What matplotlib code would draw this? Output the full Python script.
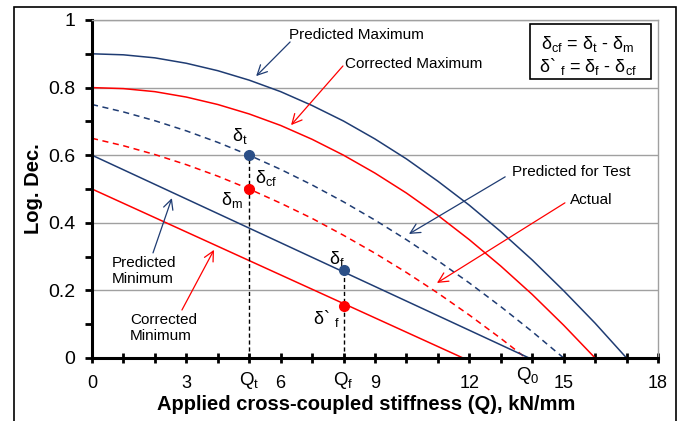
import matplotlib
matplotlib.use('Agg')
import matplotlib.pyplot as plt
from matplotlib.patches import Rectangle

plt.rcParams['font.family'] = ['Liberation Sans', 'DejaVu Sans']
plt.rcParams['mathtext.fontset'] = 'custom'
plt.rcParams['mathtext.rm'] = 'Liberation Sans'
plt.rcParams['mathtext.it'] = 'Liberation Sans'
plt.rcParams['mathtext.bf'] = 'Liberation Sans:bold'

navy = '#1F3C73'
red = '#FF0000'

# curves
pmax_x = [0, 1, 2, 3, 4, 5, 6, 7, 8, 9, 10, 11, 12, 13, 14, 15, 16, 17]
pmax_y = [0.90, 0.897, 0.888, 0.872, 0.850, 0.822, 0.788, 0.747, 0.701, 0.648,
          0.589, 0.523, 0.452, 0.374, 0.290, 0.199, 0.103, 0.0]
cmax_x = [0, 1, 2, 3, 4, 5, 6, 7, 8, 9, 10, 11, 12, 13, 14, 15, 16]
cmax_y = [0.80, 0.797, 0.788, 0.772, 0.750, 0.722, 0.688, 0.647, 0.600, 0.547,
          0.488, 0.422, 0.350, 0.272, 0.188, 0.097, 0.0]
ptest_x = [0, 1, 2, 3, 4, 5, 6, 7, 8, 9, 10, 11, 12, 13, 14, 15]
ptest_y = [0.75, 0.728, 0.702, 0.672, 0.638, 0.600, 0.558, 0.512, 0.462, 0.408,
           0.350, 0.288, 0.222, 0.152, 0.078, 0.0]
actual_x = [0, 1, 2, 3, 4, 5, 6, 7, 8, 9, 10, 11, 12, 13, 13.8]
actual_y = [0.65, 0.628, 0.602, 0.572, 0.538, 0.500, 0.458, 0.413, 0.363, 0.310,
            0.253, 0.192, 0.127, 0.058, 0.0]
pmin_x = [0, 13.9]
pmin_y = [0.60, 0.0]
cmin_x = [0, 11.8]
cmin_y = [0.50, 0.0]

# marked points
Qt, Qf, Q0 = 5.0, 8.0, 13.85
d_t, d_m = 0.60, 0.50
d_f, d_f2 = 0.26, 0.155

fig = plt.figure(figsize=(6.81, 4.21), dpi=100)
fig.patches.append(Rectangle((14 / 681, -0.05), (676 - 14) / 681, 1 - 7 / 421 + 0.05,
                             transform=fig.transFigure, fill=False, ec='black', lw=1.2))
ax = fig.add_axes([92 / 681, 1 - 358 / 421, (658 - 92) / 681, (358 - 20) / 421])

ax.plot(pmax_x, pmax_y, color=navy, lw=1.1)
ax.plot(cmax_x, cmax_y, color=red, lw=1.1)
ax.plot(ptest_x, ptest_y, color=navy, lw=1.1, ls=(0, (4, 3)))
ax.plot(actual_x, actual_y, color=red, lw=1.1, ls=(0, (4, 3)))
ax.plot(pmin_x, pmin_y, color=navy, lw=1.1)
ax.plot(cmin_x, cmin_y, color=red, lw=1.1)

ax.plot([Qt, Qt], [0, d_t], color='black', lw=1, ls=(0, (3, 2)))
ax.plot([Qf, Qf], [0, d_f], color='black', lw=1, ls=(0, (3, 2)))
ax.plot([Qt, Qf], [d_t, d_f], 'o', color='#2B4F87', ms=7, zorder=5)
ax.plot([Qt, Qf], [d_m, d_f2], 'o', color=red, ms=7, zorder=5)

ax.set_xlim(0, 18)
ax.set_ylim(0, 1)
ax.set_xticks([0, 3, 6, 9, 12, 15, 18])
ax.set_xticks(range(0, 19), minor=True)
ax.set_yticks([0, 0.2, 0.4, 0.6, 0.8, 1])
ax.set_yticklabels(['0', '0.2', '0.4', '0.6', '0.8', '1'])
ax.set_yticks([0.1, 0.3, 0.5, 0.7, 0.9], minor=True)
ax.tick_params(axis='y', which='both', direction='out', length=5, width=2, labelsize=14, pad=7)
ax.tick_params(axis='x', which='both', direction='inout', length=7, width=2, labelsize=13, pad=9)
ax.grid(axis='y', color='#a0a0a0', lw=1)
ax.set_axisbelow(True)
for s in ['left', 'bottom']:
    ax.spines[s].set_linewidth(2.2)
for s in ['top', 'right']:
    ax.spines[s].set_color('#a0a0a0')
    ax.spines[s].set_linewidth(1)

ax.set_ylabel('Log. Dec.', fontsize=14.5, fontweight='bold', va='center')
ax.yaxis.set_label_coords(-(92 - 34) / 566, 0.5)
ax.set_xlabel('Applied cross-coupled stiffness (Q), kN/mm', fontsize=14.5, fontweight='bold', va='center')
ax.xaxis.set_label_coords(0.484, -(405 - 358) / 338)

# Q labels under axis
ax.text(Qt, -0.068, 'Q$_t$', ha='center', va='center', fontsize=13.5)
ax.text(Qf, -0.068, 'Q$_f$', ha='center', va='center', fontsize=13.5)
ax.text(Q0, -0.052, 'Q$_0$', ha='center', va='center', fontsize=13.5)

# delta labels
ax.text(4.7, 0.657, 'δ$_t$', ha='center', va='center', fontsize=13)
ax.text(5.55, 0.533, 'δ$_{cf}$', ha='center', va='center', fontsize=13)
ax.text(4.45, 0.467, 'δ$_m$', ha='center', va='center', fontsize=13)
ax.text(7.8, 0.293, 'δ$_f$', ha='center', va='center', fontsize=13)
ax.text(7.45, 0.118, 'δ` $_f$', ha='center', va='center', fontsize=13)

# annotations
arrow = dict(arrowstyle='->,head_length=0.7,head_width=0.35', lw=0.9, shrinkA=0, shrinkB=0)
notes = [
    ('Predicted Maximum', (6.27, 0.956), (6.30, 0.935), (5.22, 0.834), navy),
    ('Corrected Maximum', (8.05, 0.870), (7.98, 0.864), (6.33, 0.689), red),
    ('Predicted for Test', (13.36, 0.550), (13.14, 0.536), (10.08, 0.367), navy),
    ('Actual', (15.2, 0.467), (15.04, 0.459), (10.97, 0.222), red),
    ('Predicted\nMinimum', (0.64, 0.257), (1.94, 0.311), (2.54, 0.473), navy),
    ('Corrected\nMinimum', (1.21, 0.089), (2.86, 0.142), (3.88, 0.320), red),
]
for label, tpos, tail, tip, c in notes:
    ax.annotate('', xy=tip, xytext=tail, arrowprops=dict(arrow, color=c))
    ax.text(tpos[0], tpos[1], label, ha='left', va='center', fontsize=11, linespacing=1.15)

# equation box
ax.add_patch(Rectangle((13.93, 0.825), 3.85, 0.163, fill=False, ec='black', lw=1.2, zorder=6))
ax.text(15.76, 0.929, 'δ$_{cf}$ = δ$_t$ - δ$_m$', ha='center', va='center', fontsize=13)
ax.text(15.76, 0.861, 'δ` $_f$ = δ$_f$ - δ$_{cf}$', ha='center', va='center', fontsize=13)

fig.savefig('out.png', dpi=100)
